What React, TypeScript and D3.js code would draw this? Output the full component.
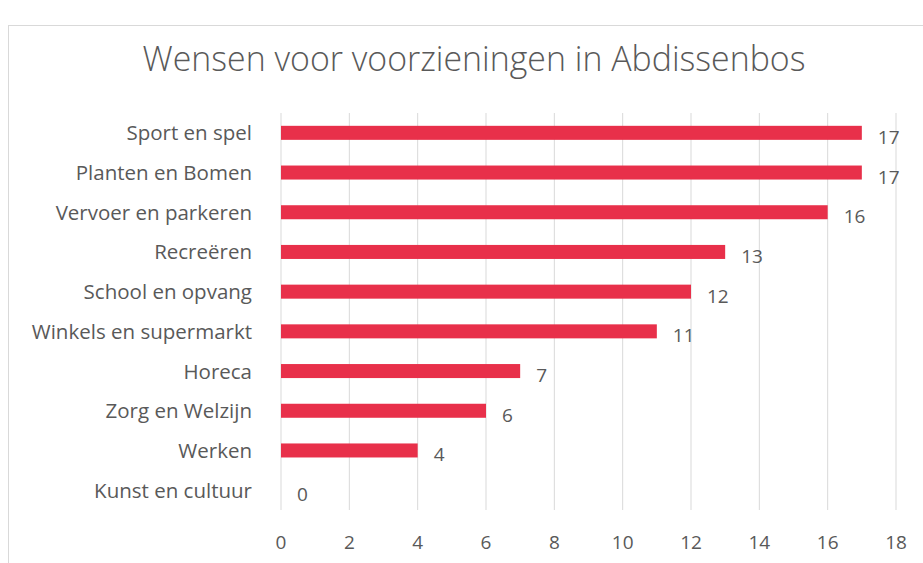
import React from "react";
import * as d3 from "d3";

const categories = [
  "Sport en spel",
  "Planten en Bomen",
  "Vervoer en parkeren",
  "Recreëren",
  "School en opvang",
  "Winkels en supermarkt",
  "Horeca",
  "Zorg en Welzijn",
  "Werken",
  "Kunst en cultuur",
];
const values = [17, 17, 16, 13, 12, 11, 7, 6, 4, 0];
const xTicks = [0, 2, 4, 6, 8, 10, 12, 14, 16, 18];
const title = "Wensen voor voorzieningen in Abdissenbos";

export default function App() {
  const W = 923;
  const H = 563;
  const left = 281;
  const right = 896;
  const top = 113;
  const bottom = 510;
  const x = d3.scaleLinear().domain([0, 18]).range([left, right]);
  const y = d3.scaleBand().domain(categories).range([top, bottom]).paddingInner(0.647).paddingOuter(0.323);
  const font = "'Open Sans', sans-serif";
  const textColor = "#595959";
  return (
    <svg width={W} height={H} style={{ position: "absolute", left: 0, top: 0, display: "block" }}>
      <rect x={0} y={0} width={W} height={H} fill="#fff" />
      <rect x={8.5} y={25.5} width={W} height={H} fill="#fff" stroke="#d9d9d9" strokeWidth={1} />
      <text x={474} y={71} textAnchor="middle" fontFamily={font} fontWeight={300} fontSize={34} fill={textColor} textLength={663} lengthAdjust="spacingAndGlyphs">
        {title}
      </text>
      {xTicks.map((t) => (
        <g key={t}>
          <line x1={x(t)} x2={x(t)} y1={top} y2={bottom} stroke="#d9d9d9" strokeWidth={1} />
          <text x={x(t)} y={549} textAnchor="middle" fontFamily={font} fontSize={19} fill={textColor}>
            {t}
          </text>
        </g>
      ))}
      {categories.map((c, i) => {
        const yy = y(c)!;
        const bw = y.bandwidth();
        return (
          <g key={c}>
            <text x={252} y={yy + bw / 2 + 7.5} textAnchor="end" fontFamily={font} fontSize={20.5} fill={textColor}>
              {c}
            </text>
            <rect x={x(0)} y={yy} width={x(values[i]) - x(0)} height={bw} fill="#E8304A" />
            <text x={x(values[i]) + 16} y={yy + bw / 2 + 11} textAnchor="start" fontFamily={font} fontSize={19} fill={textColor}>
              {values[i]}
            </text>
          </g>
        );
      })}
    </svg>
  );
}
